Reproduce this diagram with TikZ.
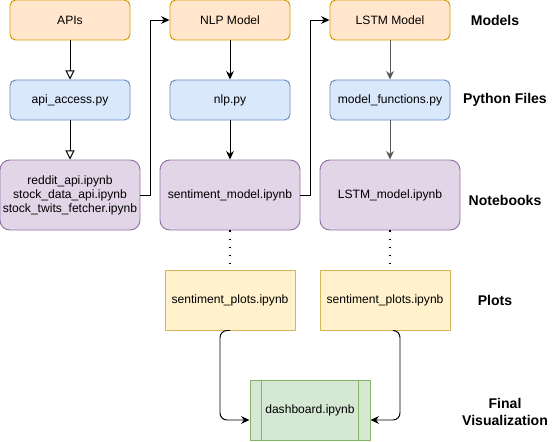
\documentclass[tikz,border=0pt]{standalone}
\usepackage{fontspec}
\setmainfont{Liberation Sans}
\usepackage{xcolor}
\usepackage{tikz}
\usetikzlibrary{arrows.meta,positioning,calc}

\definecolor{orfill}{HTML}{FFE6CC}\definecolor{ordraw}{HTML}{D79B00}
\definecolor{blfill}{HTML}{DAE8FC}\definecolor{bldraw}{HTML}{6C8EBF}
\definecolor{pufill}{HTML}{E1D5E7}\definecolor{pudraw}{HTML}{9673A6}
\definecolor{yefill}{HTML}{FFF2CC}\definecolor{yedraw}{HTML}{D6B656}
\definecolor{grfill}{HTML}{D5E8D4}\definecolor{grdraw}{HTML}{82B366}

\begin{document}
\begin{tikzpicture}[
    font=\fontsize{8.6}{10}\selectfont,
    box/.style={draw=#1draw, fill=#1fill, line width=0.7pt, rounded corners=4pt,
                minimum width=3cm, minimum height=1cm, align=center, inner sep=1pt},
    nbbox/.style={box=pu, minimum width=3.5cm, minimum height=1.75cm, rounded corners=7pt},
    plotbox/.style={box=ye, rounded corners=0pt, minimum width=3.25cm, minimum height=1.5cm},
    rowlabel/.style={font=\fontsize{10}{11.5}\selectfont\bfseries, align=center},
    arr/.style={-{Stealth[length=6pt,width=5.5pt]}, line width=0.7pt},
    openarr/.style={-{Triangle[length=6.5pt,width=6.5pt,fill=white]}, line width=0.7pt},
    dotline/.style={line width=1.1pt, dash pattern=on 1.1pt off 4.6pt}
]
\useasboundingbox (0,0) rectangle (13.8,-11.025);

%% MODELS
\node[box=or] (apis) at (1.75,-0.5) {APIs};
\node[box=or] (nlpmodel) at (5.75,-0.5) {NLP Model};
\node[box=or] (lstmmodel) at (9.75,-0.5) {LSTM Model};

%% PYTHON FILES
\node[box=bl] (apiaccess) at (1.75,-2.5) {api\_access.py};
\node[box=bl] (nlppy) at (5.75,-2.5) {nlp.py};
\node[box=bl] (modelfn) at (9.75,-2.5) {model\_functions.py};

%% NOTEBOOKS
\node[nbbox] (fetchers) at (1.75,-4.875)
    {reddit\_api.ipynb\\stock\_data\_api.ipynb\\stock\_twits\_fetcher.ipynb};
\node[nbbox] (sentmodel) at (5.75,-4.875) {sentiment\_model.ipynb};
\node[nbbox] (lstmnb) at (9.75,-4.875) {LSTM\_model.ipynb};

%% PLOTS
\node[plotbox] (plotsa) at (5.75,-7.5) {sentiment\_plots.ipynb};
\node[plotbox] (plotsb) at (9.625,-7.5) {sentiment\_plots.ipynb};

%% DASHBOARD
\node[box=gr, rounded corners=0pt, minimum height=1.5cm] (dash) at (7.75,-10.25)
    {dashboard.ipynb};
\draw[grdraw, line width=0.7pt] ([xshift=0.3cm]dash.north west) -- ([xshift=0.3cm]dash.south west);
\draw[grdraw, line width=0.7pt] ([xshift=-0.3cm]dash.north east) -- ([xshift=-0.3cm]dash.south east);

%% ROW LABELS
\node[rowlabel] (lmodels) at (12.375,-0.5) {Models};
\node[rowlabel] (lpython) at (12.625,-2.5) {Python Files};
\node[rowlabel] (lnotebooks) at (12.625,-5.0) {Notebooks};
\node[rowlabel] (lplots) at (12.375,-7.5) {Plots};
\node[rowlabel] (lfinal) at (12.625,-10.3) {Final\\Visualization};

%% ARROWS: api chain
\draw[openarr] (apis.south) -- (apiaccess.north);
\draw[openarr] (apiaccess.south) -- (fetchers.north);

%% ARROWS: nlp chain
\draw[arr] (fetchers.east) -- ++(0.25,0) |- (nlpmodel.west);
\draw[arr] (nlpmodel.south) -- (nlppy.north);
\draw[arr] (nlppy.south) -- (sentmodel.north);

%% ARROWS: lstm chain
\draw[arr] (sentmodel.east) -- ++(0.25,0) |- (lstmmodel.west);
\draw[arr, black!65] (lstmmodel.south) -- (modelfn.north);
\draw[arr, black!65] (modelfn.south) -- (lstmnb.north);

%% notebooks to plots
\draw[dotline] (sentmodel.south) -- (plotsa.north);
\draw[dotline] (lstmnb.south) -- (lstmnb.south |- plotsb.north);

%% plots to dashboard
\draw[arr, rounded corners=5pt] (plotsa.south) -- ++(-0.25,0)
    |- ([yshift=-0.25cm]dash.west);
\draw[arr, rounded corners=5pt] ([xshift=0.25cm]plotsb.south) -- ++(0.125,0)
    |- ([yshift=-0.25cm]dash.east);

\end{tikzpicture}
\end{document}
